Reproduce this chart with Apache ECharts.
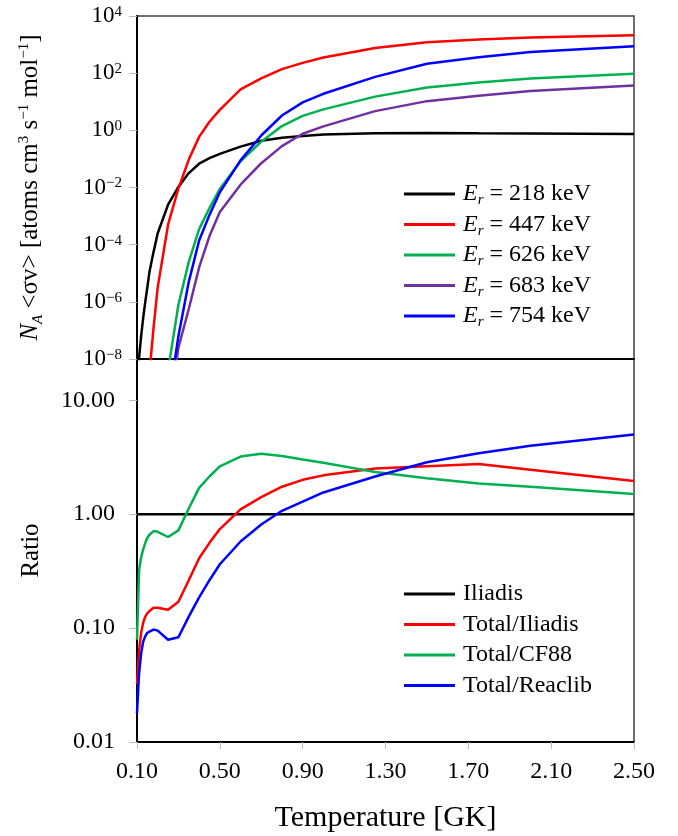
<!DOCTYPE html>
<html>
<head>
<meta charset="utf-8">
<style>
  html, body { margin: 0; padding: 0; background: #fff; }
  #chart { width: 678px; height: 836px; }
</style>
<script src="https://cdn.jsdelivr.net/npm/echarts@6/dist/echarts.min.js"></script>
</head>
<body>
<div id="chart"></div>
<script>
// temperature grid (GK)
var temps = [0.10, 0.11, 0.12, 0.13, 0.14, 0.15, 0.16, 0.18, 0.20, 0.25, 0.30, 0.35, 0.40, 0.45, 0.50,
             0.60, 0.70, 0.80, 0.90, 1.00, 1.25, 1.50, 1.75, 2.00, 2.50];

// upper panel: reaction rate per resonance
var rateNames = ['Er = 218 keV', 'Er = 447 keV', 'Er = 626 keV', 'Er = 683 keV', 'Er = 754 keV'];
var rate218 = [1.3e-9, 1.1e-8, 6.3e-8, 2.8e-7, 1.0e-6, 3.2e-6, 1.1e-5, 5.6e-5, 2.5e-4, 2.5e-3, 1.05e-2, 3.2e-2, 6.8e-2, 0.107, 0.15,
               0.27, 0.43, 0.55, 0.63, 0.71, 0.79, 0.81, 0.79, 0.78, 0.74];
var rate447 = [null, null, null, null, null, 4.0e-10, 3.2e-9, 1.26e-7, 3.2e-6, 5.0e-4, 9.3e-3, 9.5e-2, 0.59, 2.0, 5.2,
               27, 66, 138, 229, 355, 759, 1200, 1510, 1780, 2140];
var rate626 = [null, null, null, null, null, null, null, null, null, 4.0e-9, 7.9e-7, 2.5e-5, 3.5e-4, 1.9e-3, 8.9e-3,
               8.3e-2, 0.40, 1.41, 3.2, 5.4, 15.1, 31.6, 46.8, 64.6, 95.5];
var rate683 = [null, null, null, null, null, null, null, null, null, 6.3e-11, 2.5e-8, 5.6e-7, 1.6e-5, 2.0e-4, 1.4e-3,
               1.26e-2, 7.1e-2, 0.28, 0.76, 1.38, 4.7, 10.5, 16.2, 24, 37];
var rate754 = [null, null, null, null, null, null, null, null, null, 2.5e-10, 6.3e-8, 5.0e-6, 1.4e-4, 1.1e-3, 6.8e-3,
               8.9e-2, 0.66, 3.3, 9.5, 19, 74, 214, 363, 550, 871];

// lower panel: ratios
var ratioNames = ['Iliadis', 'Total/Iliadis', 'Total/CF88', 'Total/Reaclib'];
var ratioIliadis = [1, 1, 1, 1, 1, 1, 1, 1, 1, 1, 1, 1, 1, 1, 1, 1, 1, 1, 1, 1, 1, 1, 1, 1, 1];
var ratioTotalIliadis = [0.032, 0.063, 0.091, 0.112, 0.126, 0.135, 0.141, 0.151, 0.151, 0.145, 0.17, 0.263, 0.41, 0.56, 0.74,
                         1.10, 1.41, 1.74, 2.0, 2.19, 2.51, 2.63, 2.75, 2.45, 1.95];
var ratioTotalCF88 = [0.079, 0.32, 0.42, 0.49, 0.56, 0.62, 0.66, 0.71, 0.70, 0.63, 0.72, 1.12, 1.70, 2.14, 2.63,
                      3.2, 3.39, 3.24, 3.02, 2.82, 2.34, 2.07, 1.86, 1.74, 1.50];
var ratioTotalReaclib = [0.0178, 0.040, 0.060, 0.076, 0.085, 0.091, 0.093, 0.097, 0.095, 0.079, 0.083, 0.126, 0.186, 0.263, 0.363,
                         0.575, 0.81, 1.07, 1.29, 1.55, 2.14, 2.85, 3.43, 3.98, 5.0];

// tick values
var rateTicks = [1e-8, 1e-6, 1e-4, 1e-2, 1, 1e2, 1e4];
var ratioTicks = [0.01, 0.1, 1, 10];

var rateColors = ['#000000', '#ff0000', '#00b050', '#7030a0', '#0000ff'];
var ratioColors = ['#000000', '#ff0000', '#00b050', '#0000ff'];

var serif = 'Liberation Serif';

function pairs(values) {
  var out = [];
  temps.forEach(function (t, i) {
    if (values[i] != null) out.push([t, values[i]]);
  });
  return out;
}

function lineSeries(name, values, color, idx) {
  return {
    name: name,
    type: 'line',
    xAxisIndex: idx,
    yAxisIndex: idx,
    data: pairs(values),
    symbol: 'none',
    clip: true,
    lineStyle: { color: color, width: 2.5 },
    itemStyle: { color: color }
  };
}

var rateData = [rate218, rate447, rate626, rate683, rate754];
var ratioData = [ratioIliadis, ratioTotalIliadis, ratioTotalCF88, ratioTotalReaclib];

var series = [];
rateNames.forEach(function (n, i) { series.push(lineSeries(n, rateData[i], rateColors[i], 0)); });
ratioNames.forEach(function (n, i) { series.push(lineSeries(n, ratioData[i], ratioColors[i], 1)); });

var chart = echarts.init(document.getElementById('chart'), null, { renderer: 'canvas' });

var option = {
  backgroundColor: '#ffffff',
  animation: false,
  textStyle: { fontFamily: serif },
  grid: [
    { left: 137, right: 44, top: 16, height: 343, show: true, borderColor: '#404040', borderWidth: 1.5, backgroundColor: 'transparent' },
    { left: 137, right: 44, top: 359, height: 383, show: true, borderColor: '#404040', borderWidth: 1.5, backgroundColor: 'transparent' }
  ],
  legend: [
    {
      data: rateNames,
      orient: 'vertical',
      left: 399,
      top: 177,
      icon: 'rect',
      itemWidth: 51,
      itemHeight: 3,
      itemGap: 4.5,
      selectedMode: false,
      formatter: function (name) {
        return '{it|E}{sub|r}{n|' + name.slice(2) + '}';
      },
      textStyle: {
        fontFamily: serif, fontSize: 24, color: '#000', padding: [0, 0, 0, 3],
        rich: {
          it: { fontFamily: serif, fontSize: 24, fontStyle: 'italic', lineHeight: 28, color: '#000' },
          sub: { fontFamily: serif, fontSize: 15, fontStyle: 'italic', lineHeight: 12, verticalAlign: 'bottom', color: '#000' },
          n: { fontFamily: serif, fontSize: 24, lineHeight: 28, color: '#000' }
        }
      }
    },
    {
      data: ratioNames,
      orient: 'vertical',
      left: 399,
      top: 575,
      icon: 'rect',
      itemWidth: 51,
      itemHeight: 3,
      itemGap: 2.5,
      selectedMode: false,
      textStyle: { fontFamily: serif, fontSize: 24, lineHeight: 28, color: '#000', padding: [0, 0, 0, 3] }
    }
  ],
  xAxis: [
    {
      type: 'value', gridIndex: 0, min: 0.1, max: 2.5, interval: 0.4,
      axisLine: { show: true, onZero: false, lineStyle: { color: '#000', width: 2 } },
      axisTick: { show: false },
      axisLabel: { show: false },
      splitLine: { show: false }
    },
    {
      type: 'value', gridIndex: 1, min: 0.1, max: 2.5, interval: 0.4,
      axisLine: { show: true, onZero: false, lineStyle: { color: '#000', width: 2 } },
      axisTick: { show: true, length: 7, lineStyle: { color: '#bbb' } },
      axisLabel: {
        margin: 18, fontFamily: serif, fontSize: 24, color: '#000',
        formatter: function (v) { return v.toFixed(2); }
      },
      splitLine: { show: false },
      name: 'Temperature [GK]',
      nameLocation: 'middle',
      nameGap: 61,
      nameTextStyle: { fontFamily: serif, fontSize: 30, color: '#000' }
    }
  ],
  yAxis: [
    {
      type: 'log', gridIndex: 0, logBase: 10, min: 1e-8, max: 1e4,
      axisLine: { show: true, lineStyle: { color: '#000', width: 2 } },
      axisTick: { show: true, length: 8, lineStyle: { color: '#bbb' }, customValues: rateTicks },
      axisLabel: {
        customValues: rateTicks,
        margin: 15,
        formatter: function (v) {
          var e = Math.round(Math.log10(v));
          return '{b|10}{sup|' + (e < 0 ? '\u2212' + (-e) : e) + '}';
        },
        rich: {
          b: { fontFamily: serif, fontSize: 23, lineHeight: 23, verticalAlign: 'bottom', color: '#000' },
          sup: { fontFamily: serif, fontSize: 15, lineHeight: 15, verticalAlign: 'top', padding: [0, 0, 0, 0], color: '#000' }
        }
      },
      splitLine: { show: false },
      name: '{it|N}{sub|A}{n| <\u03c3v> [atoms cm}{sup|3}{n| s}{sup|\u22121}{n| mol}{sup|\u22121}{n|]}',
      nameLocation: 'middle',
      nameGap: 91,
      nameTextStyle: {
        fontFamily: serif, fontSize: 25, color: '#000',
        rich: {
          it: { fontFamily: serif, fontSize: 25, fontStyle: 'italic', lineHeight: 32, color: '#000' },
          n: { fontFamily: serif, fontSize: 25, lineHeight: 32, color: '#000' },
          sub: { fontFamily: serif, fontSize: 15, fontStyle: 'italic', lineHeight: 15, verticalAlign: 'bottom', color: '#000' },
          sup: { fontFamily: serif, fontSize: 15, lineHeight: 15, verticalAlign: 'top', padding: [3, 0, 0, 0], color: '#000' }
        }
      }
    },
    {
      type: 'log', gridIndex: 1, logBase: 10, min: 0.01, max: 23,
      axisLine: { show: true, lineStyle: { color: '#000', width: 2 } },
      axisTick: { show: true, length: 8, lineStyle: { color: '#bbb' }, customValues: ratioTicks },
      axisLabel: {
        customValues: ratioTicks,
        margin: 22, fontFamily: serif, fontSize: 24, color: '#000',
        formatter: function (v) { return Number(v).toFixed(2); }
      },
      splitLine: { show: false },
      name: 'Ratio',
      nameLocation: 'middle',
      nameGap: 93,
      nameTextStyle: { fontFamily: serif, fontSize: 25, color: '#000' }
    }
  ],
  series: series
};

chart.setOption(option);
</script>
</body>
</html>
